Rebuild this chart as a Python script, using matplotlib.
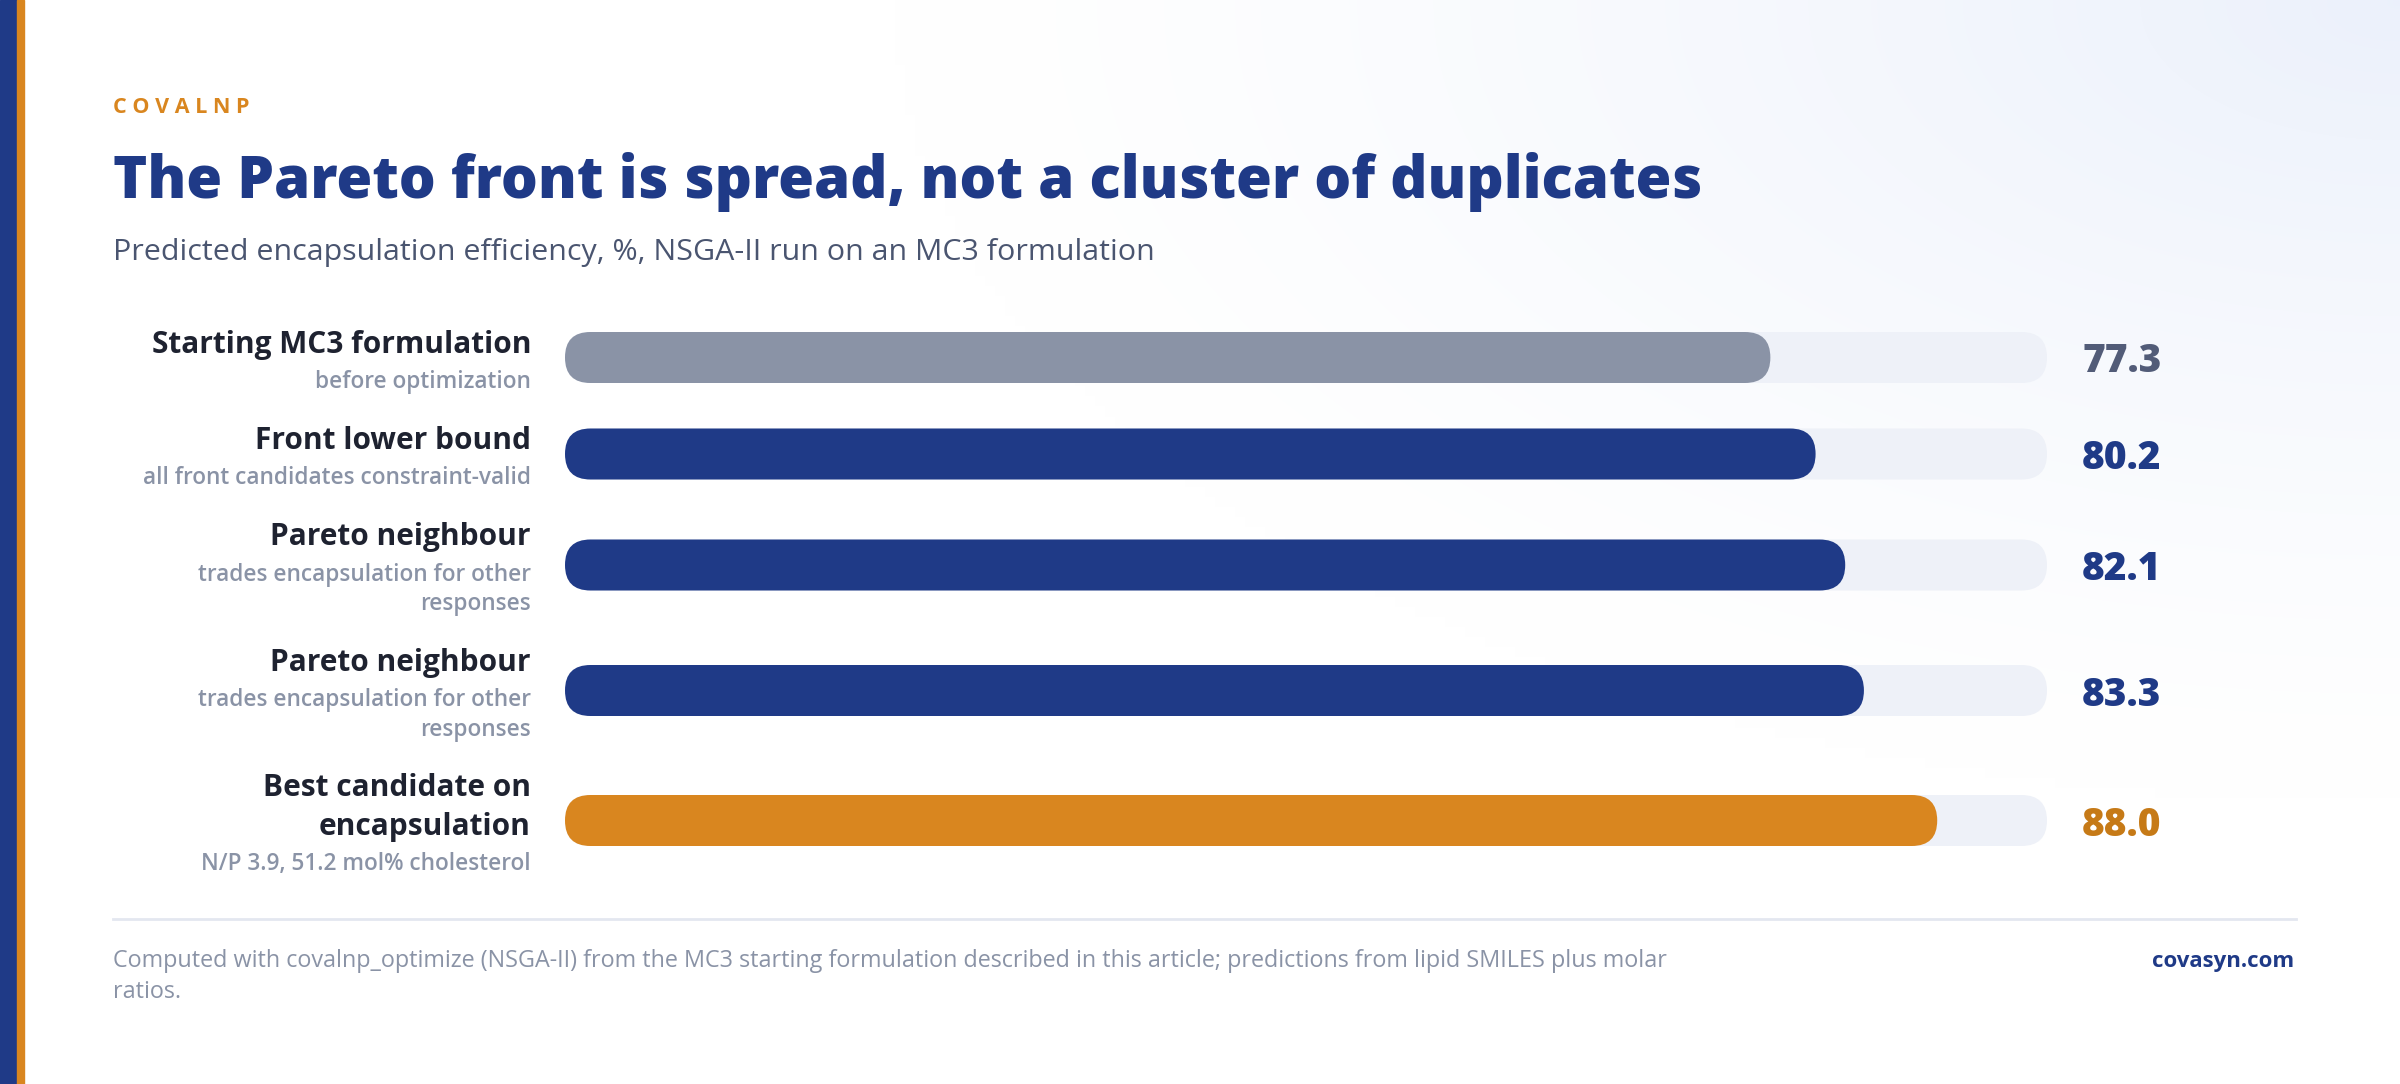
import numpy as np
import matplotlib.pyplot as plt
from matplotlib.patches import FancyBboxPatch, Rectangle

# --- dados do gráfico ---
categorias = ["Starting MC3 formulation", "Front lower bound", "Pareto neighbour",
              "Pareto neighbour", "Best candidate on\nencapsulation"]
descricoes = ["before optimization", "all front candidates constraint-valid",
              "trades encapsulation for other\nresponses",
              "trades encapsulation for other\nresponses",
              "N/P 3.9, 51.2 mol% cholesterol"]
valores = [77.3, 80.2, 82.1, 83.3, 88.0]
grupos = ["base", "front", "front", "front", "best"]

kicker = "COVALNP"
titulo = "The Pareto front is spread, not a cluster of duplicates"
subtitulo = "Predicted encapsulation efficiency, %, NSGA-II run on an MC3 formulation"
rodape = ["Computed with covalnp_optimize (NSGA-II) from the MC3 starting formulation "
          "described in this article; predictions from lipid SMILES plus molar",
          "ratios."]
marca = "covasyn.com"

# --- cores ---
AZUL = "#1f3a87"
LARANJA = "#d9861f"
cor_barra = {"base": "#8a93a6", "front": AZUL, "best": LARANJA}
cor_valor = {"base": "#525c78", "front": AZUL, "best": "#c67a17"}
TRILHO = "#eef1f8"
TEXTO = "#1e2230"
CINZA = "#8a93a6"

plt.rcParams['font.family'] = ['Open Sans', 'DejaVu Sans']

W, H = 2400, 1084
X0, X1 = 565, 2047          # área das barras (px)
ALT = 51                    # altura da barra (px)
xmax = max(valores) * 1.08

fig = plt.figure(figsize=(24, 10.84), dpi=100)

# camada de fundo em pixels
bg = fig.add_axes([0, 0, 1, 1])
bg.set_xlim(0, W)
bg.set_ylim(H, 0)
bg.axis('off')

# gradiente suave no canto superior direito
gx, gy = np.meshgrid(np.linspace(0, W, 240), np.linspace(0, H, 108))
d = np.sqrt(((W - gx) / 1500) ** 2 + (gy / 800) ** 2)
t = np.clip(1 - d, 0, 1) ** 1.3
c = np.array([0.925, 0.945, 0.985])
img = 1 - t[..., None] * (1 - c)
bg.imshow(img, extent=[0, W, H, 0], interpolation='bilinear', aspect='auto', zorder=0)

# faixas laterais
bg.add_patch(Rectangle((0, 0), 17, H, color=AZUL, zorder=1))
bg.add_patch(Rectangle((17, 0), 7, H, color=LARANJA, zorder=1))

# cabeçalho
bg.text(113, 113, " ".join(kicker), color=LARANJA, fontsize=15.5, fontweight='bold', va='baseline')
bg.text(113, 198, titulo, color=AZUL, fontsize=41.8, fontweight='heavy', va='baseline')
bg.text(113, 260, subtitulo, color="#4a5570", fontsize=21.9, fontweight='medium', va='baseline')

# eixo das barras: x em unidades de dados, y em pixels
ax = fig.add_axes([X0 / W, 0, (X1 - X0) / W, 1])
ax.set_xlim(0, xmax)
ax.set_ylim(H, 0)
ax.axis('off')
ax.patch.set_alpha(0)

r_x = (ALT / 2) * xmax / (X1 - X0) * 0.999
aspecto = (ALT / 2) / r_x

LH_T, LH_S, GAP = 38, 29, 25.5
topo = 322
for cat, desc, v, g in zip(categorias, descricoes, valores, grupos):
    lt = cat.split("\n")
    ls = desc.split("\n")
    h = len(lt) * LH_T + len(ls) * LH_S + 4
    cy = topo + h / 2

    # trilho e barra com pontas arredondadas
    for largura, cor in [(xmax, TRILHO), (v, cor_barra[g])]:
        ax.add_patch(FancyBboxPatch((0, cy - ALT / 2), largura, ALT,
                                    boxstyle=f"round,pad=0,rounding_size={r_x}",
                                    mutation_aspect=aspecto, fc=cor, ec='none'))

    # rótulos
    for i, linha in enumerate(lt):
        bg.text(531, topo + LH_T * (i + 0.5) + 11.5, linha, ha='right', va='baseline',
                color=TEXTO, fontsize=21.5, fontweight='bold')
    for j, linha in enumerate(ls):
        bg.text(531, topo + len(lt) * LH_T + 4 + LH_S * (j + 0.5) + 9.5, linha, ha='right',
                va='baseline', color=CINZA, fontsize=16.3, fontweight='semibold')

    bg.text(X1 + 35, cy + 15, f"{v:.1f}", color=cor_valor[g], fontsize=28,
            fontweight='heavy', va='baseline')

    topo += h + GAP

# rodapé
bg.plot([113, 2296], [919, 919], color="#e3e7f0", lw=2)
for k, linha in enumerate(rodape):
    bg.text(113, 967 + 31 * k, linha, color=CINZA, fontsize=16.8, va='baseline')
bg.text(2294, 967, marca, color=AZUL, fontsize=16, fontweight='bold', ha='right', va='baseline')

fig.savefig("out.png", dpi=100)
